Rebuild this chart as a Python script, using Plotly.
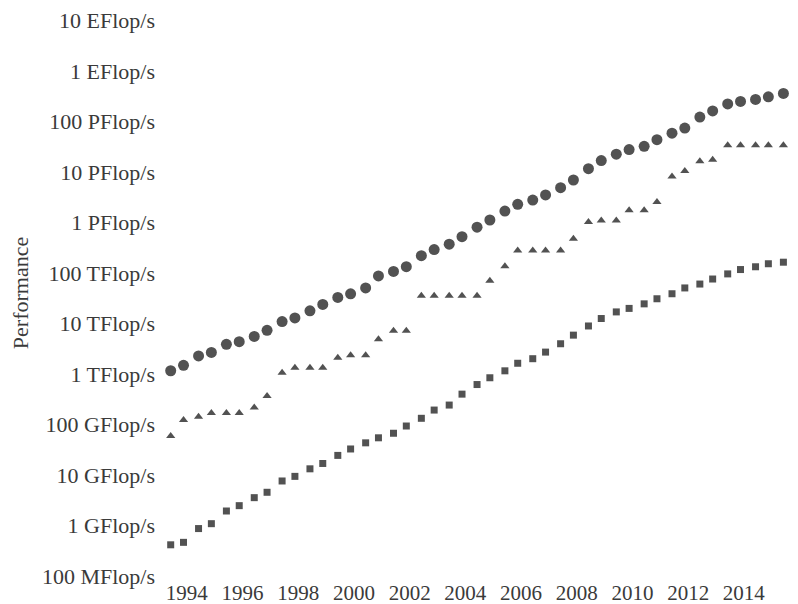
import plotly.graph_objects as go

# TOP500 list dates (June / November)
years = []
for y in range(1993, 2016):
    years += [y + 0.42, y + 0.88]

# Performance in GFlop/s
sum_perf = [1170, 1500, 2300, 2700, 3900, 4400, 5600, 7400, 11000, 13000,
            18000, 24000, 33000, 39000, 51000, 88000, 108000, 134000, 222000, 293000,
            375000, 528000, 813000, 1127000, 1690000, 2300000, 2790000, 3540000, 4920000, 6970000,
            11700000, 16900000, 22600000, 27900000, 32400000, 43700000, 58900000, 74200000, 123000000, 162000000,
            223000000, 250000000, 274000000, 309000000, 361000000, 420000000]
n1_perf = [59.7, 124, 143.4, 170, 170, 170, 220.4, 368.2, 1068, 1338,
           1338, 1338, 2121, 2379, 2379, 4938, 7226, 7226, 35860, 35860,
           35860, 35860, 35860, 70720, 136800, 280600, 280600, 280600, 280600, 478200,
           1026000, 1105000, 1105000, 1759000, 1759000, 2566000, 8162000, 10510000, 16320000, 17590000,
           33860000, 33860000, 33860000, 33860000, 33860000, 33860000]
n500_perf = [0.42, 0.47, 0.88, 1.1, 1.96, 2.5, 3.6, 4.6, 7.7, 9.5,
             13.4, 17.1, 24.7, 33.1, 43.8, 55.1, 67.8, 94.3, 134, 195,
             245, 403, 624, 850, 1166, 1646, 2026, 2737, 4005, 5929,
             9000, 12640, 17090, 20050, 24670, 31120, 39090, 50940, 60820, 76500,
             96620, 117800, 133700, 153400, 164700, 206400]

tick_vals = [0.1, 1, 10, 100, 1e3, 1e4, 1e5, 1e6, 1e7, 1e8, 1e9, 1e10]
tick_text = ["100 MFlop/s", "1 GFlop/s", "10 GFlop/s", "100 GFlop/s", "1 TFlop/s",
             "10 TFlop/s", "100 TFlop/s", "1 PFlop/s", "10 PFlop/s", "100 PFlop/s",
             "1 EFlop/s", "10 EFlop/s"]
x_ticks = list(range(1994, 2015, 2))

color = "#525252"
fig = go.Figure()
fig.add_trace(go.Scatter(x=years, y=sum_perf, mode="markers", name="Sum", cliponaxis=False,
                         marker=dict(symbol="circle", size=11, color=color)))
fig.add_trace(go.Scatter(x=years, y=n1_perf, mode="markers", name="N=1", cliponaxis=False,
                         marker=dict(symbol="triangle-up", size=8, color=color)))
fig.add_trace(go.Scatter(x=years, y=n500_perf, mode="markers", name="N=500", cliponaxis=False,
                         marker=dict(symbol="square", size=7, color=color)))

font = "Liberation Serif, Times New Roman, serif"
fig.update_layout(
    width=782, height=596,
    margin=dict(l=148, r=0, t=1, b=27),
    paper_bgcolor="white", plot_bgcolor="white",
    showlegend=False,
    font=dict(family=font, size=21, color="#3a3a3a"),
    xaxis=dict(range=[1992.892, 2015.657], tickvals=x_ticks, automargin=False,
               ticktext=[str(v) for v in x_ticks], tickfont=dict(size=21),
               ticklabelstandoff=1,
               showgrid=False, zeroline=False, showline=False, ticks=""),
    yaxis=dict(type="log", range=[-1.014, 10.228], tickvals=tick_vals, automargin=False,
               ticktext=tick_text, tickfont=dict(size=22), ticklabeloverflow="allow",
               showgrid=False, zeroline=False,
               showline=False, ticks="",
               title=dict(text="Performance", font=dict(size=22), standoff=14)),
)
fig.write_html("out.html")
